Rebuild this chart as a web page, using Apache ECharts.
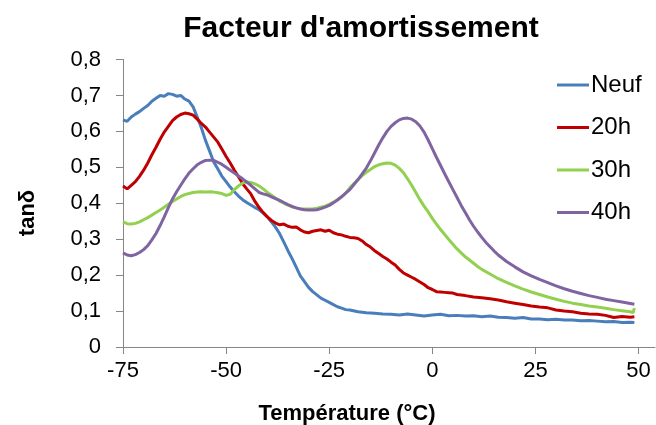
<!DOCTYPE html>
<html>
<head>
<meta charset="utf-8">
<script src="https://cdn.jsdelivr.net/npm/echarts@6/dist/echarts.min.js"></script>
<style>
html,body{margin:0;padding:0;background:#fff;}
#c{width:656px;height:425px;}
</style>
</head>
<body>
<div id="c"></div>
<script>
const chartTitle = "Facteur d'amortissement";
const xTitle = "Température (°C)";
const yTitle = "tanδ";
const seriesNames = ["Neuf", "20h", "30h", "40h"];
const xTicks = [-75, -50, -25, 0, 25, 50];

const neuf = [[-75,0.632],[-74,0.628],[-73,0.640],[-72,0.648],[-71,0.655],[-70,0.664],[-69,0.672],[-68,0.684],[-67,0.692],[-66,0.700],[-65,0.698],[-64,0.705],[-63,0.703],[-62,0.698],[-61,0.700],[-60,0.690],[-59,0.684],[-58,0.668],[-57,0.640],[-56,0.610],[-55,0.575],[-54,0.545],[-53,0.515],[-52,0.495],[-51,0.475],[-50,0.460],[-49,0.445],[-48,0.432],[-47,0.420],[-46,0.410],[-45,0.402],[-44,0.395],[-43,0.388],[-42,0.382],[-41,0.373],[-40,0.362],[-39,0.348],[-38,0.333],[-37,0.315],[-36,0.292],[-35,0.268],[-34,0.246],[-33,0.222],[-32,0.198],[-31,0.182],[-30,0.166],[-29,0.154],[-28,0.145],[-27,0.136],[-26,0.130],[-25,0.124],[-24,0.118],[-23,0.112],[-22,0.108],[-21,0.104],[-20,0.103],[-18,0.098],[-16,0.095],[-14,0.094],[-12,0.092],[-10,0.091],[-8,0.089],[-6,0.092],[-4,0.089],[-2,0.086],[0,0.089],[2,0.091],[4,0.087],[6,0.088],[8,0.086],[10,0.087],[12,0.084],[14,0.086],[16,0.083],[18,0.082],[20,0.080],[22,0.082],[24,0.078],[26,0.078],[28,0.076],[30,0.077],[32,0.075],[34,0.075],[36,0.073],[38,0.074],[40,0.072],[42,0.070],[44,0.071],[46,0.068],[48,0.069],[49,0.068]];

const h20 = [[-75,0.448],[-74,0.440],[-73,0.450],[-72,0.460],[-71,0.475],[-70,0.492],[-69,0.512],[-68,0.535],[-67,0.556],[-66,0.578],[-65,0.598],[-64,0.614],[-63,0.630],[-62,0.640],[-61,0.647],[-60,0.651],[-59,0.649],[-58,0.645],[-57,0.634],[-56,0.622],[-55,0.612],[-54,0.598],[-53,0.584],[-52,0.570],[-51,0.550],[-50,0.530],[-49,0.512],[-48,0.492],[-47,0.474],[-46,0.455],[-45,0.440],[-44,0.426],[-43,0.405],[-42,0.388],[-41,0.374],[-40,0.362],[-39,0.352],[-38,0.345],[-37,0.340],[-36,0.342],[-35,0.336],[-34,0.333],[-33,0.334],[-32,0.326],[-31,0.320],[-30,0.318],[-29,0.322],[-28,0.324],[-27,0.326],[-26,0.322],[-25,0.325],[-24,0.318],[-23,0.314],[-22,0.312],[-21,0.308],[-20,0.305],[-19,0.304],[-18,0.302],[-17,0.295],[-16,0.285],[-15,0.278],[-14,0.268],[-13,0.260],[-12,0.252],[-11,0.245],[-10,0.236],[-9,0.228],[-8,0.216],[-7,0.206],[-6,0.200],[-5,0.194],[-4,0.188],[-3,0.181],[-2,0.174],[-1,0.165],[0,0.160],[1,0.154],[2,0.153],[3,0.152],[4,0.151],[5,0.150],[6,0.146],[8,0.143],[10,0.139],[12,0.137],[14,0.134],[16,0.131],[18,0.126],[20,0.122],[22,0.118],[24,0.114],[26,0.111],[28,0.109],[30,0.103],[32,0.100],[34,0.098],[36,0.094],[38,0.092],[40,0.091],[42,0.088],[44,0.082],[46,0.085],[48,0.083],[49,0.084]];

const h30 = [[-75,0.348],[-74,0.343],[-73,0.342],[-72,0.344],[-71,0.348],[-70,0.354],[-69,0.360],[-68,0.367],[-67,0.374],[-66,0.381],[-65,0.389],[-64,0.397],[-63,0.405],[-62,0.412],[-61,0.419],[-60,0.424],[-59,0.427],[-58,0.430],[-57,0.431],[-56,0.432],[-55,0.431],[-54,0.432],[-53,0.431],[-52,0.429],[-51,0.427],[-50,0.422],[-49,0.425],[-48,0.438],[-47,0.448],[-46,0.456],[-45,0.459],[-44,0.458],[-43,0.454],[-42,0.448],[-41,0.440],[-40,0.430],[-39,0.422],[-38,0.414],[-37,0.406],[-36,0.400],[-35,0.395],[-34,0.390],[-33,0.387],[-32,0.385],[-31,0.384],[-30,0.384],[-29,0.384],[-28,0.386],[-27,0.389],[-26,0.392],[-25,0.397],[-24,0.403],[-23,0.410],[-22,0.418],[-21,0.428],[-20,0.443],[-19,0.455],[-18,0.466],[-17,0.477],[-16,0.486],[-15,0.494],[-14,0.502],[-13,0.507],[-12,0.510],[-11,0.512],[-10,0.511],[-9,0.506],[-8,0.497],[-7,0.485],[-6,0.468],[-5,0.450],[-4,0.430],[-3,0.410],[-2,0.392],[-1,0.376],[0,0.358],[1,0.342],[2,0.327],[3,0.313],[4,0.299],[5,0.286],[6,0.273],[7,0.262],[8,0.251],[9,0.242],[10,0.233],[11,0.224],[12,0.216],[14,0.203],[16,0.190],[18,0.180],[20,0.170],[22,0.161],[24,0.153],[26,0.146],[28,0.139],[30,0.133],[32,0.127],[34,0.122],[36,0.118],[38,0.114],[40,0.111],[42,0.108],[44,0.104],[46,0.101],[48,0.098],[48.7,0.096],[49,0.108]];

const h40 = [[-75,0.262],[-74,0.256],[-73,0.254],[-72,0.257],[-71,0.263],[-70,0.271],[-69,0.282],[-68,0.298],[-67,0.316],[-66,0.338],[-65,0.362],[-64,0.388],[-63,0.412],[-62,0.432],[-61,0.450],[-60,0.468],[-59,0.484],[-58,0.496],[-57,0.507],[-56,0.514],[-55,0.519],[-54,0.520],[-53,0.519],[-52,0.514],[-51,0.508],[-50,0.500],[-49,0.492],[-48,0.484],[-47,0.476],[-46,0.468],[-45,0.459],[-44,0.450],[-43,0.440],[-42,0.430],[-41,0.426],[-40,0.423],[-39,0.418],[-38,0.413],[-37,0.408],[-36,0.402],[-35,0.396],[-34,0.391],[-33,0.387],[-32,0.384],[-31,0.382],[-30,0.381],[-29,0.381],[-28,0.382],[-27,0.385],[-26,0.389],[-25,0.394],[-24,0.401],[-23,0.409],[-22,0.418],[-21,0.428],[-20,0.438],[-19,0.452],[-18,0.466],[-17,0.482],[-16,0.498],[-15,0.518],[-14,0.540],[-13,0.562],[-12,0.582],[-11,0.600],[-10,0.614],[-9,0.624],[-8,0.632],[-7,0.636],[-6,0.637],[-5,0.634],[-4,0.627],[-3,0.615],[-2,0.598],[-1,0.576],[0,0.552],[1,0.528],[2,0.505],[3,0.482],[4,0.460],[5,0.438],[6,0.416],[7,0.394],[8,0.374],[9,0.354],[10,0.336],[11,0.320],[12,0.305],[13,0.291],[14,0.279],[15,0.267],[16,0.256],[18,0.238],[20,0.223],[22,0.209],[24,0.198],[26,0.188],[28,0.179],[30,0.170],[32,0.162],[34,0.155],[36,0.149],[38,0.143],[40,0.138],[42,0.133],[44,0.129],[46,0.125],[48,0.121],[49,0.119]];

const seriesData = [neuf, h20, h30, h40];
const colors = ['#4A7EBB', '#C00000', '#92D050', '#8064A2'];

const font = "'Liberation Sans', Arial, sans-serif";
const chart = echarts.init(document.getElementById('c'), null, {renderer: 'canvas'});
const axisColor = '#868686';

chart.setOption({
  animation: false,
  backgroundColor: '#ffffff',
  color: colors,
  title: [
    {text: chartTitle, left: 361, top: 14, textAlign: 'center', padding: 0,
     textStyle: {fontFamily: font, fontSize: 30, fontWeight: 'bold', color: '#000'}},
    {text: xTitle, left: 347, top: 403, textAlign: 'center', padding: 0,
     textStyle: {fontFamily: font, fontSize: 22, fontWeight: 'bold', color: '#000'}}
  ],
  graphic: [{
    type: 'text', x: 28, y: 213, rotation: Math.PI / 2,
    style: {text: yTitle, font: "bold 22px 'Liberation Sans', Arial, sans-serif", fill: '#000',
            textAlign: 'center', textVerticalAlign: 'middle'}
  }],
  legend: {
    orient: 'vertical', left: 557, top: 73, padding: 0,
    icon: 'rect', itemWidth: 32, itemHeight: 3, itemGap: 18.5,
    textStyle: {fontFamily: font, fontSize: 24, color: '#000', lineHeight: 24, padding: [0,0,0,-3]},
    data: seriesNames
  },
  grid: {left: 123, top: 59.5, right: 1, bottom: 78, containLabel: false},
  xAxis: {
    type: 'value', min: -75, max: 54, interval: 25,
    axisLine: {show: true, onZero: false, lineStyle: {color: axisColor, width: 1}},
    axisTick: {show: true, inside: false, length: 7, lineStyle: {color: axisColor}, customValues: xTicks},
    axisLabel: {fontFamily: font, fontSize: 22, color: '#000', margin: 13, customValues: xTicks},
    splitLine: {show: false}
  },
  yAxis: {
    type: 'value', min: 0, max: 0.8, interval: 0.1,
    axisLine: {show: true, onZero: false, lineStyle: {color: axisColor, width: 1}},
    axisTick: {show: true, inside: false, length: 7, lineStyle: {color: axisColor}},
    axisLabel: {fontFamily: font, fontSize: 22, color: '#000', margin: 22,
      formatter: v => (Math.round(v * 10) / 10).toString().replace('.', ',')},
    splitLine: {show: false}
  },
  series: seriesNames.map((n, i) => ({
    name: n, type: 'line', data: seriesData[i],
    showSymbol: false, symbol: 'none', smooth: false,
    lineStyle: {width: 3, color: colors[i]},
    itemStyle: {color: colors[i]}
  }))
});
</script>
</body>
</html>
